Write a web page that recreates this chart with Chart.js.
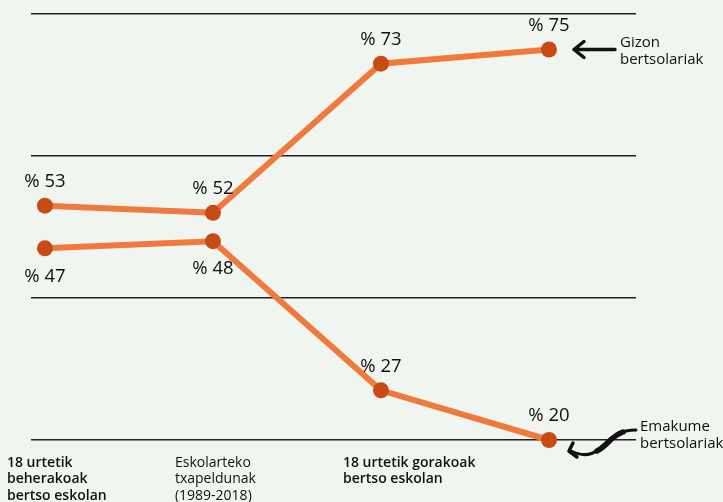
<!DOCTYPE html>
<html>
<head>
<meta charset="utf-8">
<script src="https://cdn.jsdelivr.net/npm/chart.js@4.4.1/dist/chart.umd.min.js"></script>
<style>
  html, body { margin: 0; padding: 0; background: #f1f5ef; }
  #wrap { width: 723px; height: 502px; position: relative; }
</style>
</head>
<body>
<div id="wrap"><canvas id="c" width="723" height="502"></canvas></div>
<script>
// ---- data ----
const categories = [
  ["18 urtetik", "beherakoak", "bertso eskolan"],
  ["Eskolarteko", "txapeldunak", "(1989-2018)"],
  ["18 urtetik gorakoak", "bertso eskolan"],
  []
];
const categoryBold = [true, false, true, false];
const gizonValues = [53, 52, 73, 75];
const emakumeValues = [47, 48, 27, 20];
const gizonLabelAbove = [true, true, true, true];
const emakumeLabelAbove = [false, false, true, true];
const yTicks = [20, 40, 60, 80];
const seriesNames = [["Gizon", "bertsolariak"], ["Emakume", "bertsolariak"]];

const LINE = '#f07a3e';
const POINT = '#c84a14';
const FONT = '"Open Sans", Lato, sans-serif';

function toXY(arr) { return arr.map((v, i) => ({ x: i, y: v })); }

const labelPlugin = {
  id: 'labels',
  afterDatasetsDraw(chart) {
    const ctx = chart.ctx;
    const xs = chart.scales.x, ys = chart.scales.y;
    ctx.save();
    ctx.fillStyle = '#111';
    ctx.font = '18.5px ' + FONT;
    ctx.textAlign = 'center';
    ctx.textBaseline = 'middle';
    const sets = [[gizonValues, gizonLabelAbove], [emakumeValues, emakumeLabelAbove]];
    sets.forEach(([vals, above]) => {
      vals.forEach((v, i) => {
        const px = xs.getPixelForValue(i);
        const py = ys.getPixelForValue(v);
        const dy = above[i] ? -24 : 28;
        ctx.fillText('% ' + v, px, py + dy);
      });
    });
    // category labels
    ctx.textAlign = 'left';
    ctx.textBaseline = 'middle';
    categories.forEach((lines, i) => {
      const px = xs.getPixelForValue(i) - 38;
      ctx.font = (categoryBold[i] ? '600 ' : '') + '14px ' + FONT;
      lines.forEach((t, j) => ctx.fillText(t, px, 463 + j * 16.5));
    });
    // series annotations
    ctx.font = '15px ' + FONT;
    const gx = xs.getPixelForValue(3), gy = ys.getPixelForValue(gizonValues[3]);
    ctx.fillText(seriesNames[0][0], gx + 71, gy - 7);
    ctx.fillText(seriesNames[0][1], gx + 71, gy + 10);
    const ey = ys.getPixelForValue(emakumeValues[3]);
    ctx.fillText(seriesNames[1][0], gx + 91, ey - 13);
    ctx.fillText(seriesNames[1][1], gx + 91, ey + 4);
    // arrows
    ctx.strokeStyle = '#111';
    ctx.lineCap = 'round';
    ctx.lineJoin = 'round';
    ctx.lineWidth = 3.5;
    ctx.beginPath();
    ctx.moveTo(gx + 66, gy);
    ctx.lineTo(gx + 25, gy);
    ctx.moveTo(gx + 35, gy - 8);
    ctx.lineTo(gx + 25, gy);
    ctx.lineTo(gx + 35, gy + 8);
    ctx.stroke();
    // curvy arrow
    ctx.lineWidth = 3;
    ctx.beginPath();
    ctx.moveTo(gx + 87, ey - 10);
    ctx.bezierCurveTo(gx + 65, ey - 10, gx + 60, ey + 2, gx + 50, ey + 9);
    ctx.bezierCurveTo(gx + 42, ey + 16, gx + 32, ey + 16, gx + 22, ey + 11);
    ctx.stroke();
    ctx.lineWidth = 5.5;
    ctx.beginPath();
    ctx.moveTo(gx + 74, ey - 8);
    ctx.bezierCurveTo(gx + 62, ey - 4, gx + 58, ey + 6, gx + 48, ey + 11);
    ctx.stroke();
    ctx.lineWidth = 3.5;
    ctx.beginPath();
    ctx.moveTo(gx + 24, ey + 3);
    ctx.lineTo(gx + 20, ey + 11);
    ctx.lineTo(gx + 28, ey + 17);
    ctx.stroke();
    ctx.restore();
  }
};

new Chart(document.getElementById('c'), {
  type: 'line',
  data: {
    datasets: [
      { data: toXY(gizonValues), borderColor: LINE, backgroundColor: POINT, clip: false },
      { data: toXY(emakumeValues), borderColor: LINE, backgroundColor: POINT, clip: false }
    ]
  },
  options: {
    responsive: false,
    animation: false,
    devicePixelRatio: 1,
    layout: { padding: { left: 31, right: 87, top: 14, bottom: 62 } },
    elements: {
      line: { borderWidth: 6, tension: 0 },
      point: { radius: 8, borderWidth: 0, hoverRadius: 8 }
    },
    plugins: { legend: { display: false }, tooltip: { enabled: false } },
    scales: {
      x: { type: 'linear', display: false, min: -0.083, max: 3.518 },
      y: {
        type: 'linear', min: 20, max: 80,
        afterFit(s) { s.width = 0; },
        afterBuildTicks(s) { s.ticks = yTicks.map(v => ({ value: v })); },
        ticks: { display: false },
        border: { display: false },
        grid: { color: '#222', lineWidth: 1.5, drawTicks: false }
      }
    }
  },
  plugins: [labelPlugin]
});
</script>
</body>
</html>
